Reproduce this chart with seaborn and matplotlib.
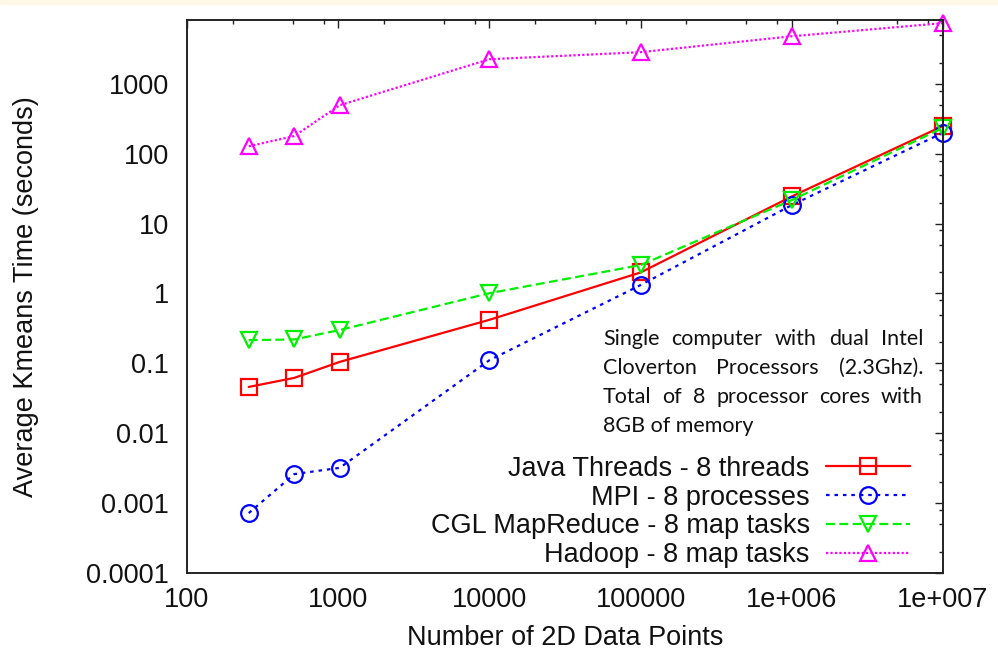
import matplotlib
matplotlib.use("Agg")
import matplotlib.pyplot as plt
import matplotlib.ticker as mticker
from matplotlib.patches import Rectangle
import seaborn as sns

# data
points = [256, 512, 1024, 10000, 100000, 1000000, 10000000]
java_threads = [0.046, 0.062, 0.105, 0.42, 2.0, 24.5, 250]
mpi = [0.00072, 0.0026, 0.0032, 0.111, 1.32, 18.4, 200]
cgl_mapreduce = [0.215, 0.22, 0.30, 1.01, 2.55, 21.7, 235]
hadoop = [128, 179, 495, 2250, 2840, 4800, 7400]

series_names = ["Java Threads - 8 threads", "MPI - 8 processes",
                "CGL MapReduce - 8 map tasks", "Hadoop - 8 map tasks"]
x_ticks = [100, 1000, 10000, 100000, 1000000, 10000000]
x_tick_labels = ["100", "1000", "10000", "100000", "1e+006", "1e+007"]
y_ticks = [0.0001, 0.001, 0.01, 0.1, 1, 10, 100, 1000]
y_tick_labels = ["0.0001", "0.001", "0.01", "0.1", "1", "10", "100", "1000"]
note_lines = ["Single computer with dual Intel",
              "Cloverton Processors (2.3Ghz).",
              "Total of 8 processor cores with",
              "8GB of memory"]

styles = [
    dict(color="#ff0000", linestyle="-", marker="s"),
    dict(color="#0000ff", linestyle=(0, (1.6, 2.2)), marker="o"),
    dict(color="#00f000", linestyle=(0, (4, 2)), marker="v"),
    dict(color="#ff00ff", linestyle=(0, (1, 1)), marker="^"),
]

sns.set_theme(style="white")
plt.rcParams['font.family'] = ['Liberation Sans', 'DejaVu Sans']
FS = 19.5

W, H = 998, 657
fig = plt.figure(figsize=(W / 100, H / 100), dpi=100)
fig.patches.append(Rectangle((0, 1 - 4 / H), 1, 4 / H, transform=fig.transFigure,
                             color="#fff8e6", zorder=0))
ax = fig.add_axes([187 / W, 1 - 573 / H, (943 - 187) / W, (573 - 20) / H])

for name, values, st in zip(series_names, [java_threads, mpi, cgl_mapreduce, hadoop], styles):
    sns.lineplot(x=points, y=values, ax=ax, label=name,
                 color=st["color"], linestyle=st["linestyle"], marker=st["marker"],
                 markersize=12, markerfacecolor="none", markeredgecolor=st["color"],
                 markeredgewidth=1.6, linewidth=1.6, clip_on=False)

ax.set_xscale("log")
ax.set_yscale("log")
ax.set_xlim(100, 1e7)
ax.set_ylim(1e-4, 8200)

for axis, ticks, labels in [(ax.xaxis, x_ticks, x_tick_labels), (ax.yaxis, y_ticks, y_tick_labels)]:
    axis.set_major_locator(mticker.FixedLocator(ticks))
    axis.set_major_formatter(mticker.FixedFormatter(labels))
    axis.set_minor_locator(mticker.LogLocator(base=10, subs=[2, 5, 8], numticks=30))
    axis.set_minor_formatter(mticker.NullFormatter())

ax.tick_params(which="both", direction="in", top=True, right=True,
               color="#222222", width=1.0, labelsize=FS, labelcolor="#111111")
ax.tick_params(which="major", length=6)
ax.tick_params(which="minor", length=3.2)
ax.tick_params(axis="x", pad=10)
ax.tick_params(axis="y", pad=13)
for s in ax.spines.values():
    s.set_linewidth(1.4)
    s.set_color("#222222")

ax.set_xlabel("Number of 2D Data Points", fontsize=FS, labelpad=9, color="#111111")
ax.set_ylabel("Average Kmeans Time (seconds)", fontsize=FS, labelpad=34, color="#111111")

ax.legend(loc="center right", bbox_to_anchor=(910 / W, 1 - 512 / H),
          bbox_transform=fig.transFigure, markerfirst=False, frameon=False,
          handlelength=3.1, handletextpad=0.6, labelspacing=0.1,
          borderpad=0, borderaxespad=0, fontsize=FS, labelcolor="#111111")

# justified note text
renderer = fig.canvas.get_renderer()
left_px, right_px = 603, 923
NFS = 15.5
for i, line in enumerate(note_lines):
    base = 345 + 29 * i
    y = 1 - base / H
    if i == len(note_lines) - 1:
        fig.text(left_px / W, y, line, fontsize=NFS, family="Lato", va="baseline",
                 ha="left", color="#111111")
        continue
    words = line.split()
    texts = [fig.text(0, y, w, fontsize=NFS, family="Lato", va="baseline",
                      ha="left", color="#111111") for w in words]
    widths = [t.get_window_extent(renderer).width for t in texts]
    gap = (right_px - left_px - sum(widths)) / (len(words) - 1)
    x = left_px
    for t, w in zip(texts, widths):
        t.set_x(x / W)
        x += w + gap

fig.savefig("out.png", dpi=100)
